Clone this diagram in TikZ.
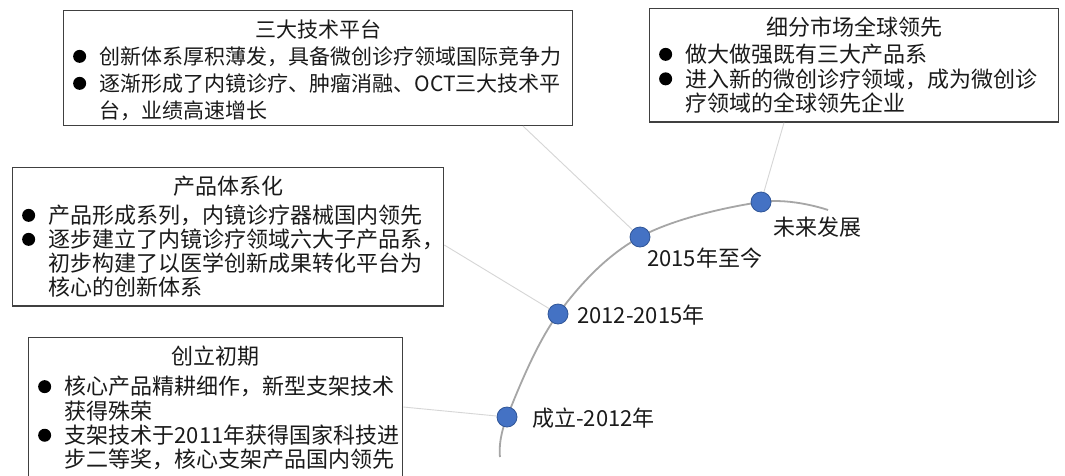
\documentclass[tikz,border=0pt]{standalone}
\usepackage{fontspec}
\setmainfont{Noto Sans CJK SC}
\usetikzlibrary{calc}
\definecolor{dotblue}{HTML}{4472C4}
\definecolor{dotedge}{HTML}{2F5597}
\definecolor{arcgray}{HTML}{A6A6A6}
\definecolor{linkgray}{HTML}{D6D6D6}
\definecolor{boxedge}{HTML}{404040}
\definecolor{txt}{HTML}{1A1A1A}
\newcommand\bulmark{\raisebox{1.8pt}{\tikz\fill[black] (0,0) circle (6.5pt);}}
\newcommand\bl[1]{\par\noindent\makebox[28pt][l]{\hspace*{1.5pt}\bulmark}\mbox{#1}}
\newcommand\cl[1]{\par\noindent\hspace*{28pt}\mbox{#1}}
\newcommand\ttl[2]{{\centering\rule{0pt}{20pt}#2\par}\vspace{#1}}
\tikzset{
  box/.style={draw=boxedge, line width=1.3pt, fill=white, anchor=north west,
    inner xsep=8pt, inner ysep=7pt, text=txt},
  link/.style={draw=linkgray, line width=0.9pt},
  arcline/.style={draw=arcgray, line width=1.8pt},
  dot/.style={circle, fill=dotblue, draw=dotedge, line width=0.8pt, minimum size=20pt, inner sep=0pt},
  lbl/.style={anchor=west, inner sep=0pt, text=txt, font=\fontsize{22}{26}\selectfont}
}
\begin{document}
\begin{tikzpicture}[x=1pt,y=-1pt]
\useasboundingbox (0,0) rectangle (1065,475);
\clip (0,0) rectangle (1065,475);
\fill[white] (0,0) rectangle (1065,475);
% timeline arc
\coordinate (p0) at (500,457);
\coordinate (p1) at (507,417);
\coordinate (p2) at (558,314);
\coordinate (p3) at (640,237);
\coordinate (p4) at (761,202);
\coordinate (p5) at (828,210);
\draw[arcline] plot[smooth, tension=0.6] coordinates {(p0) (p1) (p2) (p3) (p4) (p5)};
\node[dot] (d1) at (p1) {};
\node[dot] (d2) at (p2) {};
\node[dot] (d3) at (p3) {};
\node[dot] (d4) at (p4) {};
\node[lbl] (l1) at (532,418) {成立-2012年};
\node[lbl] (l2) at (577,315) {2012-2015年};
\node[lbl] (l3) at (647,258) {2015年至今};
\node[lbl] (l4) at (773,227) {未来发展};
% boxes
\node[box, text width=493pt, font=\fontsize{21}{27}\selectfont] (b1) at (63,10) {%
\ttl{0pt}{三大技术平台}
\bl{创新体系厚积薄发，具备微创诊疗领域国际竞争力}
\bl{逐渐形成了内镜诊疗、肿瘤消融、OCT三大技术平}
\cl{台，业绩高速增长}\par\vspace*{-2.5pt}};
\node[box, text width=393pt, font=\fontsize{22}{24.5}\selectfont] (b2) at (649,8) {%
\ttl{2.5pt}{细分市场全球领先}
\bl{做大做强既有三大产品系}
\bl{进入新的微创诊疗领域，成为微创诊}
\cl{疗领域的全球领先企业}\par\vspace*{1.5pt}};
\node[box, text width=415pt, font=\fontsize{22}{24}\selectfont] (b3) at (12,167) {%
\ttl{5pt}{产品体系化}
\bl{产品形成系列，内镜诊疗器械国内领先}
\bl{逐步建立了内镜诊疗领域六大子产品系，}
\cl{初步构建了以医学创新成果转化平台为}
\cl{核心的创新体系}\par\vspace*{1.5pt}};
\node[box, text width=358pt, font=\fontsize{22}{24.3}\selectfont] (b4) at (28,337) {%
\ttl{6pt}{创立初期}
\bl{核心产品精耕细作，新型支架技术}
\cl{获得殊荣}
\bl{支架技术于2011年获得国家科技进}
\cl{步二等奖，核心支架产品国内领先}\par\vspace*{30pt}};
% connectors
\coordinate (c1) at ($(b1.south west)+(460,0)$);
\coordinate (c2) at ($(b2.south west)+(135,0)$);
\coordinate (c3) at ($(b3.north east)+(0,78)$);
\coordinate (c4) at ($(b4.north east)+(0,70)$);
\draw[link] (c1) -- (d3);
\draw[link] (c2) -- (d4);
\draw[link] (c3) -- (d2);
\draw[link] (c4) -- (d1);
\end{tikzpicture}
\end{document}
